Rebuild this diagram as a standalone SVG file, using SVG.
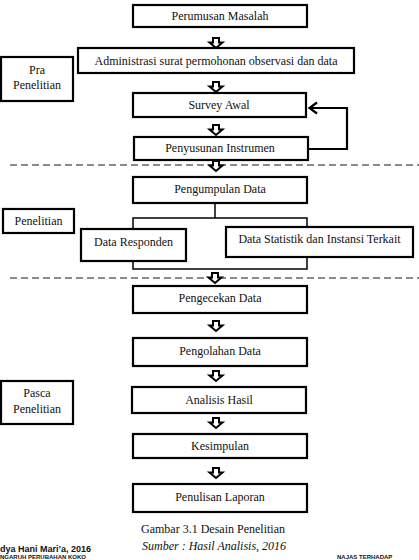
<svg xmlns="http://www.w3.org/2000/svg" width="419" height="560" viewBox="0 0 419 560">
<style>
.box{fill:#fff;stroke:#000;stroke-width:2.2}
.t{font-family:"Liberation Serif","Times New Roman",serif;font-size:12px;fill:#111;text-anchor:middle}
.dash{stroke:#666;stroke-width:1.4;stroke-dasharray:7 4;fill:none}
.br{fill:none;stroke:#000;stroke-width:1.5}
.ft{font-family:"Liberation Sans",Arial,sans-serif;font-weight:bold;fill:#111}
</style>
<defs>
<path id="ar" d="M-3,0 h6 v4.5 h3.5 l-6.5,5.5 l-6.5,-5.5 h3.5 z" fill="#fff" stroke="#000" stroke-width="2" stroke-linejoin="miter"/>
</defs>
<g id="separators">
<line class="dash" x1="10" y1="165" x2="419" y2="165"/>
<line class="dash" x1="10" y1="278" x2="419" y2="278"/>
</g>
<g id="connectors">
<line x1="215" y1="203" x2="215" y2="218" stroke="#000" stroke-width="1.5"/>
<rect class="br" x="133" y="218" width="174" height="51"/>
<polyline points="308,149 347,149 347,108 310,108" fill="none" stroke="#000" stroke-width="2.2"/>
<polyline points="317,102.5 309.5,108 317,113.5" fill="none" stroke="#000" stroke-width="2.2"/>
<use href="#ar" x="216" y="38"/>
<use href="#ar" x="216" y="82"/>
<use href="#ar" x="216" y="125"/>
<use href="#ar" x="216" y="161"/>
<use href="#ar" x="215" y="273"/>
<use href="#ar" x="216" y="321"/>
<use href="#ar" x="216" y="371"/>
<use href="#ar" x="216" y="418"/>
<use href="#ar" x="216" y="468"/>
</g>
<g id="pra">
<rect class="box" x="1" y="57" width="72" height="44"/>
<text class="t" x="37" y="74">Pra</text>
<text class="t" x="37" y="89">Penelitian</text>
</g>
<g id="penelitian">
<rect class="box" x="3" y="209" width="71" height="24"/>
<text class="t" x="38.5" y="225">Penelitian</text>
</g>
<g id="pasca">
<rect class="box" x="1" y="381" width="72" height="43"/>
<text class="t" x="37" y="397">Pasca</text>
<text class="t" x="37" y="413">Penelitian</text>
</g>
<g id="perumusan">
<rect class="box" x="133" y="5" width="174" height="22"/>
<text class="t" x="220" y="20">Perumusan Masalah</text>
</g>
<g id="administrasi">
<rect class="box" x="78" y="48" width="276" height="25"/>
<text class="t" x="216" y="65">Administrasi surat permohonan observasi dan data</text>
</g>
<g id="survey">
<rect class="box" x="133" y="93" width="173" height="24"/>
<text class="t" x="219" y="109">Survey Awal</text>
</g>
<g id="penyusunan">
<rect class="box" x="134" y="137" width="174" height="23"/>
<text class="t" x="220" y="152">Penyusunan Instrumen</text>
</g>
<g id="pengumpulan">
<rect class="box" x="133" y="177" width="174" height="26"/>
<text class="t" x="220" y="193">Pengumpulan Data</text>
</g>
<g id="responden">
<rect class="box" x="81" y="229" width="105" height="32"/>
<text class="t" x="133.5" y="246">Data Responden</text>
</g>
<g id="statistik">
<rect class="box" x="226" y="227" width="187" height="30"/>
<text class="t" x="319.5" y="243">Data Statistik dan Instansi Terkait</text>
</g>
<g id="pengecekan">
<rect class="box" x="133" y="286" width="174" height="27"/>
<text class="t" x="220" y="302">Pengecekan Data</text>
</g>
<g id="pengolahan">
<rect class="box" x="133" y="338" width="174" height="28"/>
<text class="t" x="220" y="355">Pengolahan Data</text>
</g>
<g id="analisis">
<rect class="box" x="132" y="387" width="174" height="26"/>
<text class="t" x="219" y="404">Analisis Hasil</text>
</g>
<g id="kesimpulan">
<rect class="box" x="133" y="434" width="174" height="24"/>
<text class="t" x="220" y="450">Kesimpulan</text>
</g>
<g id="penulisan">
<rect class="box" x="133" y="484" width="174" height="28"/>
<text class="t" x="220" y="501">Penulisan Laporan</text>
</g>
<g id="caption">
<text x="141" y="533" font-family="Liberation Serif, serif" font-size="12" fill="#111">Gambar 3.1 Desain Penelitian</text>
<text x="142" y="550" font-family="Liberation Serif, serif" font-size="12" font-style="italic" fill="#111">Sumber : Hasil Analisis, 2016</text>
<text class="ft" x="0" y="552" font-size="9">dya Hani Mari’a, 2016</text>
<text class="ft" x="0" y="559" font-size="6">NGARUH PERUBAHAN KOKO</text>
<text class="ft" x="337" y="559" font-size="6">NAJAS TERHADAP</text>
</g>
</svg>
